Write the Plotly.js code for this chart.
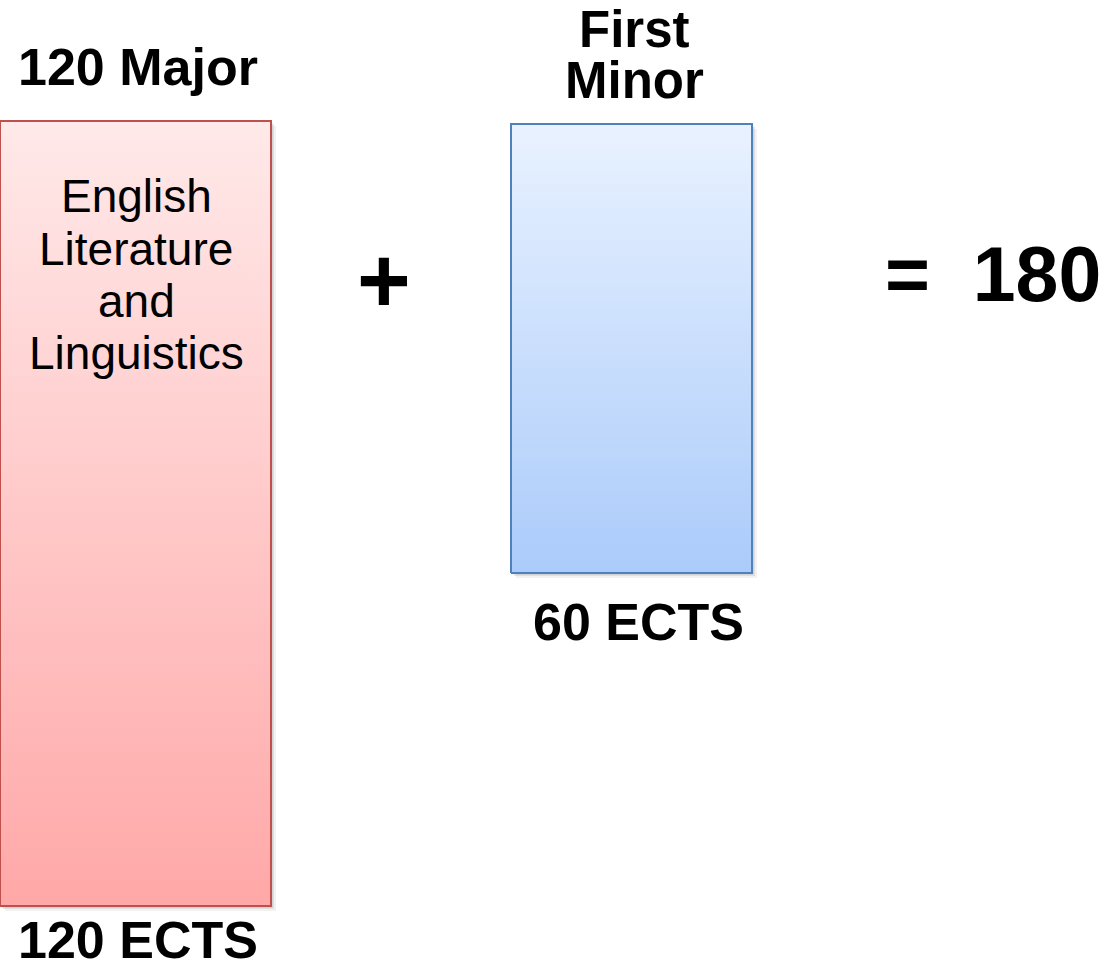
<!DOCTYPE html>
<html>
<head>
<meta charset="utf-8">
<script src="https://cdn.plot.ly/plotly-3.0.1.min.js"></script>
<style>html,body{margin:0;padding:0;background:#fff;}#chart{width:1111px;height:971px;}</style>
</head>
<body>
<div id="chart"></div>
<script>
// ---- data ----
const programs = ['120 Major', 'First Minor'];
const ects = [120, 60];
const totalEcts = 180;
const majorSubjectLines = ['English', 'Literature', 'and', 'Linguistics'];
const minorHeaderLines = ['First', 'Minor'];
const ectsLabels = ects.map(v => v + ' ECTS');

// ---- layout constants (pixels) ----
const W = 1111, H = 971;
const FONT = 'Liberation Sans, Arial, sans-serif';
const barPx = [
  {x0: 0, x1: 271, top: 121, bottom: 906},
  {x0: 511, x1: 752, top: 124, bottom: 573}
];
const fills = [
  {line: '#C0504D', bottom: '#FFA8A8', top: '#FFE9E9'},
  {line: '#4F81BD', bottom: '#ABCBFA', top: '#E9F2FF'}
];
const PAD = 12;

function axisFor(b, vmax) {
  const pxPerUnit = (b.bottom - b.top) / vmax;
  const padU = PAD / pxPerUnit;
  return {
    domain: [(H - b.bottom - PAD) / H, (H - b.top + PAD) / H],
    range: [-padU, vmax + padU],
    pxPerUnit: pxPerUnit
  };
}
const py = px => 1 - px / H;

const traces = [];
const layout = {
  width: W, height: H,
  margin: {l: 0, r: 0, t: 0, b: 0, pad: 0},
  paper_bgcolor: '#ffffff', plot_bgcolor: 'rgba(0,0,0,0)',
  showlegend: false,
  xaxis: {range: [0, W], visible: false, fixedrange: true},
  annotations: []
};

ects.forEach((v, i) => {
  const b = barPx[i];
  const ax = axisFor(b, v);
  const yName = i === 0 ? 'yaxis' : 'yaxis' + (i + 1);
  const yRef = i === 0 ? 'y' : 'y' + (i + 1);
  layout[yName] = {domain: ax.domain, range: ax.range, visible: false, fixedrange: true, anchor: 'x'};
  // soft shadow layers
  [[5, 'rgba(0,0,0,0.05)'], [3, 'rgba(0,0,0,0.08)'], [1.5, 'rgba(0,0,0,0.10)']].forEach(([off, col]) => {
    const du = off / ax.pxPerUnit;
    traces.push({
      type: 'scatter', mode: 'lines', xaxis: 'x', yaxis: yRef,
      x: [b.x0 + off, b.x1 + off, b.x1 + off, b.x0 + off, b.x0 + off],
      y: [-du, -du, v - du, v - du, -du],
      fill: 'toself', fillcolor: col, line: {width: 0}, hoverinfo: 'skip'
    });
  });
  traces.push({
    type: 'scatter', mode: 'lines', xaxis: 'x', yaxis: yRef, name: programs[i],
    x: [b.x0, b.x1, b.x1, b.x0, b.x0],
    y: [0, 0, v, v, 0],
    fill: 'toself',
    fillgradient: {type: 'vertical', colorscale: [[0, fills[i].bottom], [1, fills[i].top]]},
    line: {color: fills[i].line, width: 2},
    hoverinfo: 'skip'
  });
});

function ann(text, x, yPx, size, bold, xanchor) {
  layout.annotations.push({
    text: bold ? '<b>' + text + '</b>' : text,
    xref: 'x', yref: 'paper', x: x, y: py(yPx),
    xanchor: xanchor || 'center', yanchor: 'middle', showarrow: false,
    font: {family: FONT, size: size, color: '#000000'}
  });
}

// headers
ann(programs[0], 137.5, 67, 52, true);
ann(minorHeaderLines[0], 634, 29, 51, true);
ann(minorHeaderLines[1], 634, 80, 51, true);
// subject inside major bar
const subjY = [196, 248.5, 301, 353.5];
majorSubjectLines.forEach((t, k) => ann(t, 136, subjY[k], 46, false));
// ECTS labels
ann(ectsLabels[1], 638.5, 622, 52, true);
ann(ectsLabels[0], 137.5, 940, 52, true);
// operators
ann('+', 384, 280, 92, true);
ann('=\u00a0\u00a0' + totalEcts, 993, 274, 77, true);

Plotly.newPlot('chart', traces, layout, {staticPlot: true, displayModeBar: false});
</script>
</body>
</html>
